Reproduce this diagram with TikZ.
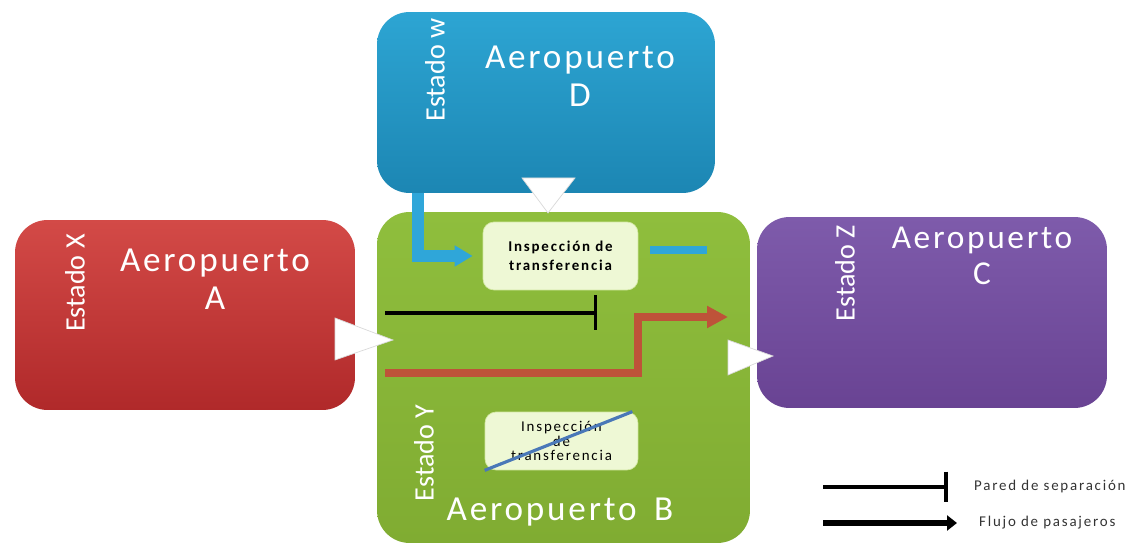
\documentclass[tikz,border=0pt]{standalone}
\usepackage{fontspec}
\setmainfont{Carlito}
\newfontfamily\wideface[LetterSpace=8]{Carlito}
\newfontfamily\smallface[LetterSpace=12]{Carlito}
\usetikzlibrary{arrows.meta}
\definecolor{redtop}{HTML}{D34A47}
\definecolor{redbot}{HTML}{B0292A}
\definecolor{bluetop}{HTML}{2DA5D3}
\definecolor{bluebot}{HTML}{1C86B3}
\definecolor{greentop}{HTML}{8FBE3D}
\definecolor{greenbot}{HTML}{80AC32}
\definecolor{purptop}{HTML}{7E5BAB}
\definecolor{purpbot}{HTML}{694393}
\definecolor{inspfill}{HTML}{EEF8D5}
\definecolor{inspline}{HTML}{D3E8A4}
\definecolor{flowblue}{HTML}{2FA6D9}
\definecolor{flowred}{HTML}{BE5339}
\definecolor{crossblue}{HTML}{4A78B8}

\begin{document}
\begin{tikzpicture}[x=0.02cm,y=-0.02cm,>={Stealth[length=2mm]},
  airport/.style={rounded corners=0.65cm,inner sep=0pt},
  airname/.style={text=white,align=center,font=\wideface\fontsize{20}{21.5}\selectfont},
  statename/.style={text=white,rotate=90,font=\fontsize{16}{16}\selectfont},
  inspbox/.style={draw=inspline,fill=inspfill,rounded corners=0.22cm,inner sep=0pt,align=center},
  pointer/.style={fill=white,draw=white!85!black,line width=0.4pt},
  wall/.style={line width=1.8pt,-{Bar[width=0.7cm]}},
  legendtext/.style={anchor=west,text=black!80,font=\smallface\fontsize{8.5}{9}\selectfont}]
\useasboundingbox (0,0) rectangle (1134,550);

% airports
\node[airport,top color=bluetop,bottom color=bluebot,minimum width=6.76cm,minimum height=3.62cm] (apD) at (546,102.5) {};
\node[airport,top color=redtop,bottom color=redbot,minimum width=6.8cm,minimum height=3.8cm] (apA) at (185,315) {};
\node[airport,top color=greentop,bottom color=greenbot,minimum width=7.46cm,minimum height=6.62cm] (apB) at (563.5,377.5) {};
\node[airport,top color=purptop,bottom color=purpbot,minimum width=7cm,minimum height=3.82cm] (apC) at (932,312.5) {};

\node[statename] (stX) at (75,283) {Estado X};
\node[airname] (nmA) at (215,279) {Aeropuerto\\A};
\node[statename] (stW) at (435,70) {Estado w};
\node[airname] (nmD) at (580,76) {Aeropuerto\\D};
\node[statename] (stY) at (424,453) {Estado Y};
\node[airname] (nmB) at (560,512) {Aeropuerto\enspace B};
\node[statename] (stZ) at (845,273) {Estado Z};
\node[airname,font=\wideface\fontsize{19}{20.5}\selectfont] (nmC) at (982,256) {Aeropuerto\\C};

% inspection points
\node[inspbox,minimum width=3.1cm,minimum height=1.36cm,font=\smallface\bfseries\fontsize{8.5}{10.5}\selectfont] (insp) at (560.5,256) {Inspección de\\transferencia};
\node[inspbox,minimum width=3.06cm,minimum height=1.16cm,font=\smallface\fontsize{8.5}{8.3}\selectfont] (inspOld) at (561.5,441) {Inspección\\de\\transferencia};
\draw[crossblue,line width=1.8pt] (inspOld.south west) -- ([xshift=-0.12cm]inspOld.north east);

% white pointers
\fill[pointer] (335,318) -- (393,340) -- (335,360) -- cycle;
\fill[pointer] (522,178) -- (575,178) -- (548,213) -- cycle;
\fill[pointer] (728,340) -- (773,356) -- (728,375) -- cycle;

% flows
\coordinate (redstart) at (385,373);
\coordinate (redturn) at (638,317);
\coordinate (redend) at (728,317);
\draw[flowred,line width=4pt,-{Triangle[length=0.42cm,width=0.42cm]}] (redstart) -| (redturn) -- (redend);
\draw[flowblue,line width=7pt,-{Triangle[length=0.36cm,width=0.4cm]},shorten >=0.2cm] ([xshift=0.82cm]apD.south west) |- (insp.west);
\coordinate (bdashA) at (650,250);
\coordinate (bdashB) at (707,250);
\draw[flowblue,line width=4.5pt] (bdashA) -- (bdashB);
\coordinate (wallstart) at (385,313);
\coordinate (wallend) at (597,313);
\draw[wall] (wallstart) -- (wallend);

% legend
\coordinate (lgWallA) at (823,487);
\coordinate (lgWallB) at (948,487);
\coordinate (lgFlowA) at (823,523);
\coordinate (lgFlowB) at (957,523);
\draw[line width=2.2pt,-{Bar[width=0.62cm]}] (lgWallA) -- (lgWallB);
\draw[line width=3.2pt,-{Triangle[length=0.2cm,width=0.3cm]}] (lgFlowA) -- (lgFlowB);
\node[legendtext] (lgWall) at (968,487) {Pared de separación};
\node[legendtext] (lgFlow) at (973,523) {Flujo de pasajeros};
\end{tikzpicture}
\end{document}
